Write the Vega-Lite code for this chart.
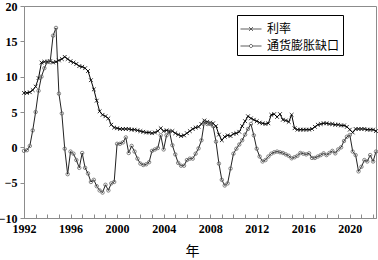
{
"$schema":"https://vega.github.io/schema/vega-lite/v6.json",
"width":352,"height":212,
"autosize":{"type":"none"},
"padding":{"left":24,"top":6,"right":2,"bottom":42},
"background":"white",
"config":{"view":{"stroke":"#8c8c8c","strokeWidth":1},"font":"Liberation Serif",
"axisY":{"labelOverlap":false,"grid":false,"domainColor":"#8c8c8c","tickColor":"#8c8c8c","tickSize":4,"labelPadding":3,"labelFont":"Liberation Serif","labelFontWeight":"bold","labelFontSize":12,"labelColor":"black"},
"legend":{"orient":"none","legendX":213,"legendY":9,"padding":3,"strokeColor":"black","fillColor":"white","labelFont":"Noto Sans CJK SC","labelFontSize":12,"labelColor":"black","symbolSize":441,"symbolStrokeWidth":0.9,"symbolStrokeColor":"black","symbolFillColor":"transparent","rowPadding":0,"labelOffset":5,"title":null}},
"data":{"values":[
{"t":1992.0,"r":7.7,"g":-0.5},{"t":1992.25,"r":7.7,"g":-0.4},{"t":1992.5,"r":7.8,"g":0.2},{"t":1992.75,"r":8.1,"g":2.4},
{"t":1993.0,"r":8.6,"g":5.0},{"t":1993.25,"r":9.8,"g":8.0},{"t":1993.5,"r":12.0,"g":10.0},{"t":1993.75,"r":12.1,"g":11.2},
{"t":1994.0,"r":12.1,"g":12.1},{"t":1994.25,"r":12.2,"g":12.1},{"t":1994.5,"r":12.0,"g":15.8},{"t":1994.75,"r":12.1,"g":16.9},
{"t":1995.0,"r":12.3,"g":7.6},{"t":1995.25,"r":12.5,"g":4.8},{"t":1995.5,"r":12.8,"g":-0.2},{"t":1995.75,"r":12.5,"g":-3.8},
{"t":1996.0,"r":12.2,"g":-0.6},{"t":1996.25,"r":12.0,"g":-0.9},{"t":1996.5,"r":11.8,"g":-1.8},{"t":1996.75,"r":11.5,"g":-2.9},
{"t":1997.0,"r":11.4,"g":-0.8},{"t":1997.25,"r":11.2,"g":-2.9},{"t":1997.5,"r":10.8,"g":-3.7},{"t":1997.75,"r":9.5,"g":-4.9},
{"t":1998.0,"r":8.2,"g":-4.6},{"t":1998.25,"r":6.6,"g":-5.5},{"t":1998.5,"r":5.1,"g":-6.1},{"t":1998.75,"r":4.6,"g":-6.4},
{"t":1999.0,"r":4.4,"g":-5.3},{"t":1999.25,"r":4.1,"g":-6.1},{"t":1999.5,"r":3.2,"g":-5.1},{"t":1999.75,"r":2.8,"g":-4.9},
{"t":2000.0,"r":2.7,"g":0.5},{"t":2000.25,"r":2.6,"g":0.5},{"t":2000.5,"r":2.6,"g":0.7},{"t":2000.75,"r":2.6,"g":1.4},
{"t":2001.0,"r":2.6,"g":-0.8},{"t":2001.25,"r":2.5,"g":0.2},{"t":2001.5,"r":2.5,"g":-0.6},{"t":2001.75,"r":2.4,"g":-1.6},
{"t":2002.0,"r":2.3,"g":-2.3},{"t":2002.25,"r":2.2,"g":-2.5},{"t":2002.5,"r":2.1,"g":-2.4},{"t":2002.75,"r":2.1,"g":-2.1},
{"t":2003.0,"r":2.0,"g":-0.5},{"t":2003.25,"r":2.1,"g":-0.3},{"t":2003.5,"r":2.3,"g":-0.1},{"t":2003.75,"r":2.7,"g":1.7},
{"t":2004.0,"r":2.3,"g":-0.3},{"t":2004.25,"r":2.4,"g":1.7},{"t":2004.5,"r":2.3,"g":2.2},{"t":2004.75,"r":2.3,"g":0.3},
{"t":2005.0,"r":2.0,"g":-1.0},{"t":2005.25,"r":1.8,"g":-2.2},{"t":2005.5,"r":1.6,"g":-2.6},{"t":2005.75,"r":1.7,"g":-2.6},
{"t":2006.0,"r":2.0,"g":-1.8},{"t":2006.25,"r":2.3,"g":-1.6},{"t":2006.5,"r":2.6,"g":-1.6},{"t":2006.75,"r":2.8,"g":-0.9},
{"t":2007.0,"r":2.9,"g":-0.15},{"t":2007.25,"r":3.3,"g":1.0},{"t":2007.5,"r":3.8,"g":3.6},{"t":2007.75,"r":3.6,"g":3.3},
{"t":2008.0,"r":3.5,"g":3.3},{"t":2008.25,"r":3.4,"g":3.0},{"t":2008.5,"r":3.0,"g":0.8},{"t":2008.75,"r":1.8,"g":-2.3},
{"t":2009.0,"r":1.0,"g":-4.6},{"t":2009.25,"r":1.5,"g":-5.4},{"t":2009.5,"r":1.7,"g":-5.1},{"t":2009.75,"r":1.6,"g":-3.0},
{"t":2010.0,"r":1.9,"g":-0.9},{"t":2010.25,"r":2.0,"g":-0.2},{"t":2010.5,"r":2.2,"g":0.4},{"t":2010.75,"r":3.0,"g":1.0},
{"t":2011.0,"r":3.7,"g":1.8},{"t":2011.25,"r":4.4,"g":2.6},{"t":2011.5,"r":4.1,"g":3.3},{"t":2011.75,"r":3.9,"g":1.7},
{"t":2012.0,"r":3.7,"g":-0.2},{"t":2012.25,"r":3.5,"g":-1.3},{"t":2012.5,"r":3.4,"g":-2.0},{"t":2012.75,"r":3.3,"g":-1.8},
{"t":2013.0,"r":3.4,"g":-1.3},{"t":2013.25,"r":4.6,"g":-0.9},{"t":2013.5,"r":4.7,"g":-0.7},{"t":2013.75,"r":4.3,"g":-0.6},
{"t":2014.0,"r":4.7,"g":-0.7},{"t":2014.25,"r":3.9,"g":-0.8},{"t":2014.5,"r":3.8,"g":-1.0},{"t":2014.75,"r":3.6,"g":-1.2},
{"t":2015.0,"r":4.6,"g":-1.55},{"t":2015.25,"r":2.7,"g":-1.4},{"t":2015.5,"r":2.5,"g":-1.2},{"t":2015.75,"r":2.5,"g":-0.8},
{"t":2016.0,"r":2.5,"g":-0.9},{"t":2016.25,"r":2.5,"g":-1.0},{"t":2016.5,"r":2.5,"g":-0.85},{"t":2016.75,"r":2.6,"g":-1.5},
{"t":2017.0,"r":2.9,"g":-1.5},{"t":2017.25,"r":3.2,"g":-1.3},{"t":2017.5,"r":3.3,"g":-1.1},{"t":2017.75,"r":3.4,"g":-0.85},
{"t":2018.0,"r":3.4,"g":-1.1},{"t":2018.25,"r":3.3,"g":-0.8},{"t":2018.5,"r":3.3,"g":-0.5},{"t":2018.75,"r":3.2,"g":-0.85},
{"t":2019.0,"r":3.2,"g":-0.3},{"t":2019.25,"r":3.1,"g":0.0},{"t":2019.5,"r":3.1,"g":0.9},{"t":2019.75,"r":2.9,"g":1.5},
{"t":2020.0,"r":2.5,"g":1.75},{"t":2020.25,"r":2.1,"g":-0.6},{"t":2020.5,"r":2.6,"g":-1.1},{"t":2020.75,"r":2.6,"g":-3.4},
{"t":2021.0,"r":2.6,"g":-2.75},{"t":2021.25,"r":2.6,"g":-1.8},{"t":2021.5,"r":2.5,"g":-2.0},{"t":2021.75,"r":2.5,"g":-1.1},
{"t":2022.0,"r":2.5,"g":-2.0},{"t":2022.25,"r":2.3,"g":-0.6}
]},
"encoding":{
"x":{"field":"t","type":"quantitative","scale":{"domain":[1992,2022.25],"nice":false,"zero":false},
"axis":{"title":"年","titleFont":"Noto Sans CJK SC","titleFontSize":14,"titleFontWeight":"normal","titleColor":"black","titleX":168,"titleY":33,"titleBaseline":"middle","titleAnchor":"start","titleAlign":"center",
"values":[1992,1993,1994,1995,1996,1997,1998,1999,2000,2001,2002,2003,2004,2005,2006,2007,2008,2009,2010,2011,2012,2013,2014,2015,2016,2017,2018,2019,2020,2021,2022],
"labelExpr":"datum.value % 4 == 0 ? format(datum.value, 'd') : ''","labelFlush":false,"labelOverlap":false,
"grid":false,"domainColor":"#8c8c8c","tickColor":"#8c8c8c","tickSize":-4,"labelPadding":9,
"labelFont":"Liberation Serif","labelFontWeight":"bold","labelFontSize":12,"labelColor":"black"}},
"y":{"field":"r","type":"quantitative","scale":{"domain":[-10,20],"nice":false},"axis":{"title":null,"values":[-10,-5,0,5,10,15,20]}}
},
"layer":[
{"mark":{"type":"line","color":"black","strokeWidth":1}},
{"mark":{"type":"point","shape":"M-1,-1L1,1M-1,1L1,-1","size":14,"stroke":"black","strokeWidth":0.8,"filled":false,"opacity":1}},
{"mark":{"type":"line","color":"#222222","strokeWidth":1},
 "encoding":{"y":{"field":"g","type":"quantitative","axis":{"title":null,"values":[-10,-5,0,5,10,15,20]}}}},
{"mark":{"type":"point","shape":"circle","size":12,"stroke":"#666666","strokeWidth":0.8,"filled":false,"opacity":1},
 "encoding":{"y":{"field":"g","type":"quantitative","axis":{"title":null,"values":[-10,-5,0,5,10,15,20]}}}},
{"transform":[{"filter":"false"}],
 "mark":{"type":"point","filled":false,"stroke":"black"},
 "encoding":{
 "shape":{"field":"s","type":"nominal","scale":{"domain":["利率","通货膨胀缺口"],"range":["M-1,0L1,0M-0.18,-0.18L0.18,0.18M-0.18,0.18L0.18,-0.18","M-1,0L-0.15,0M0.15,0L1,0M-0.15,0A0.15,0.15,0,1,0,0.15,0A0.15,0.15,0,1,0,-0.15,0"]},
 "legend":{"title":null}}}}
]
}
